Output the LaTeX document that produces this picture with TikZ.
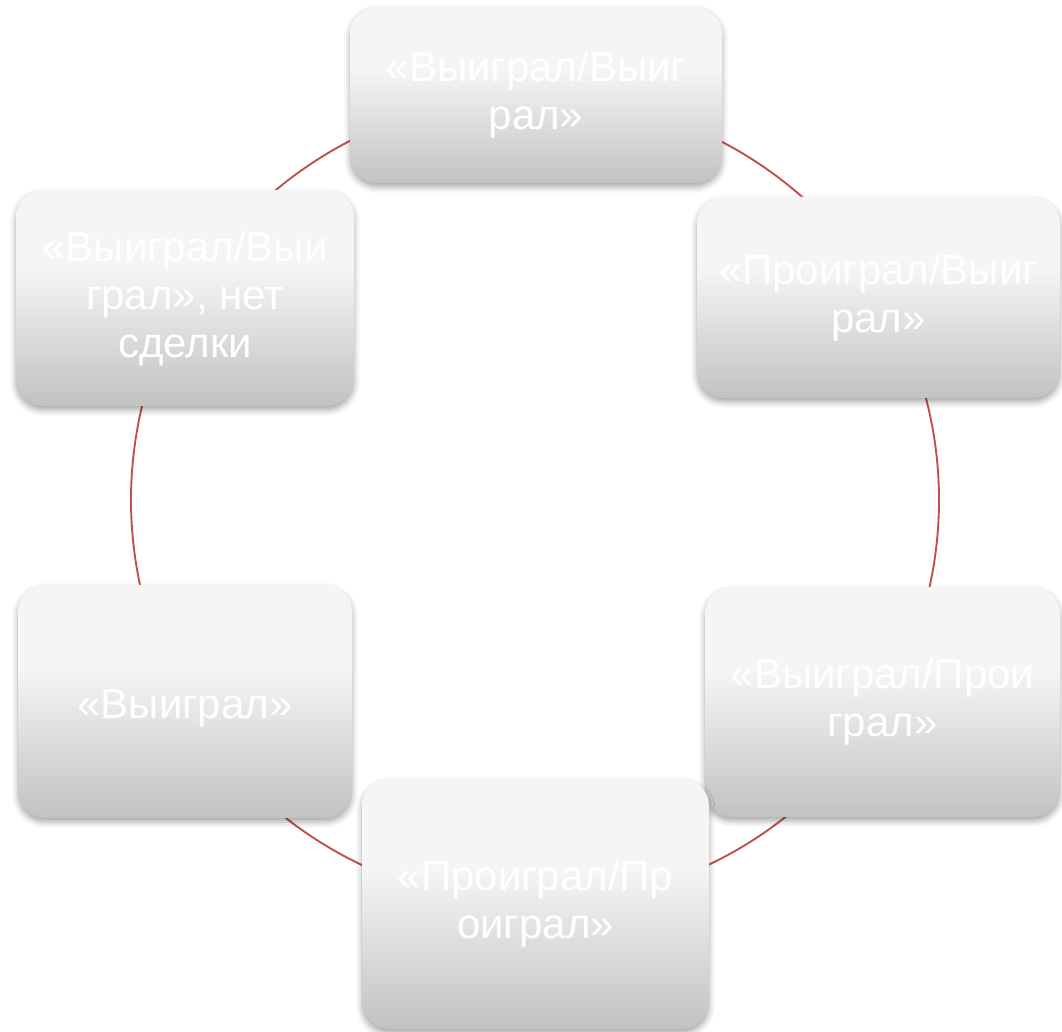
\documentclass[tikz,border=0pt]{standalone}
\usepackage{fontspec}
\setmainfont{Liberation Sans}
\usetikzlibrary{shadows.blur}
\definecolor{boxtop}{HTML}{F5F5F5}
\definecolor{boxbot}{HTML}{C2C2C2}
\definecolor{linkred}{HTML}{C0504D}
\pgfdeclareverticalshading{boxshade}{100bp}{color(0bp)=(boxbot); color(25bp)=(boxbot); color(57bp)=(boxtop); color(100bp)=(boxtop)}
\tikzset{
  box/.style={rectangle, rounded corners=27pt, shading=boxshade, draw=none,
    text=white, align=center, inner sep=0pt,
    font=\fontsize{42}{48}\selectfont,
    execute at begin node={\rule{0pt}{43pt}},
    blur shadow={shadow xshift=0pt, shadow yshift=-4pt, shadow blur radius=6pt, shadow opacity=35}},
  link/.style={draw=linkred, line width=1.9pt}
}
\begin{document}
\begin{tikzpicture}[x=1pt,y=1pt]
\useasboundingbox (0,0) rectangle (1062,1032);
\coordinate (o) at (535,532);
% ring connectors
\draw[link] ([shift={(90:404)}]o) arc[start angle=90, end angle=30, radius=404pt];
\draw[link] ([shift={(30:404)}]o) arc[start angle=30, end angle=-30, radius=404pt];
\draw[link] ([shift={(-30:404)}]o) arc[start angle=-30, end angle=-90, radius=404pt];
\draw[link] ([shift={(-90:404)}]o) arc[start angle=-90, end angle=-150, radius=404pt];
\draw[link] ([shift={(-150:404)}]o) arc[start angle=-150, end angle=-210, radius=404pt];
\draw[link] ([shift={(150:404)}]o) arc[start angle=150, end angle=90, radius=404pt];
% boxes
\node[box, minimum width=372pt, minimum height=176pt] (n1) at (536,937) {«Выиграл/Выиг\\рал»};
\node[box, minimum width=363pt, minimum height=201pt] (n2) at (878.5,734.5) {«Проиграл/Выиг\\рал»};
\node[box, minimum width=355pt, minimum height=230pt] (n3) at (882.5,330) {«Выиграл/Прои\\грал»};
\node[box, minimum width=347pt, minimum height=250pt] (n4) at (535.5,128) {«Проиграл/Пр\\оиграл»};
\node[box, minimum width=334pt, minimum height=233pt] (n5) at (185,330.5) {«Выиграл»};
\node[box, minimum width=338pt, minimum height=216pt] (n6) at (185,734) {«Выиграл/Выи\\грал», нет\\сделки};
\end{tikzpicture}
\end{document}
